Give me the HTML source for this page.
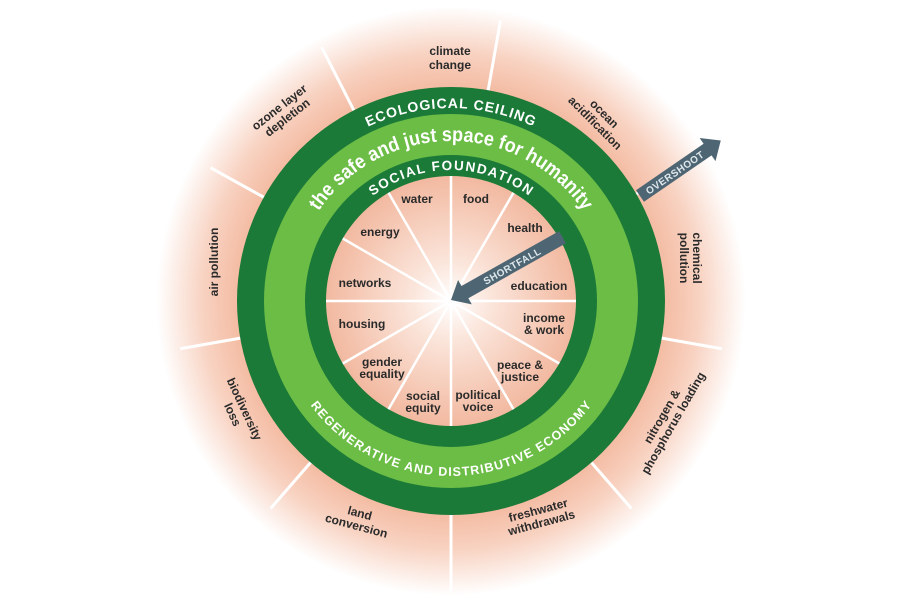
<!DOCTYPE html>
<html><head><meta charset="utf-8"><style>
html,body{margin:0;padding:0;background:#fff;}
svg{display:block;}
.lab{font-family:"Liberation Sans",sans-serif;font-weight:bold;font-size:12px;fill:#2a2a2a;text-anchor:middle;}
.ring{font-family:"Liberation Sans",sans-serif;font-weight:bold;fill:#fff;}
</style></head><body>
<svg width="900" height="604" viewBox="0 0 900 604" xmlns="http://www.w3.org/2000/svg">
<defs>
<radialGradient id="og" cx="451" cy="301" r="310" gradientUnits="userSpaceOnUse">
<stop offset="0.66" stop-color="#f3b69b"/>
<stop offset="0.8" stop-color="#f8d2c1"/>
<stop offset="0.95" stop-color="#ffffff"/>
</radialGradient>
<radialGradient id="ig" cx="451" cy="301" r="126" gradientUnits="userSpaceOnUse">
<stop offset="0" stop-color="#ffffff"/>
<stop offset="0.3" stop-color="#fbe6dc"/>
<stop offset="1" stop-color="#f2b89f"/>
</radialGradient>
<radialGradient id="lg" cx="451" cy="301" r="300" gradientUnits="userSpaceOnUse">
<stop offset="0.7" stop-color="#fff" stop-opacity="1"/>
<stop offset="0.95" stop-color="#fff" stop-opacity="0"/>
</radialGradient>
<path id="pEco" d="M 258,301 A 193,193 0 0 1 644,301"/>
<path id="pSafe" d="M 291,301 A 160,160 0 0 1 611,301"/>
<path id="pSoc" d="M 320,301 A 131,131 0 0 1 582,301"/>
<path id="pReg" d="M 274,301 A 177,177 0 0 0 628,301"/>
</defs>
<rect width="900" height="604" fill="#fff"/>
<circle cx="451" cy="301" r="310" fill="url(#og)"/>
<g stroke="#fff" stroke-width="3">
<g transform="translate(451,301)">
<line x1="0" y1="-214" x2="0" y2="-285" transform="rotate(10)"/>
<line x1="0" y1="-214" x2="0" y2="-285" transform="rotate(60)"/>
<line x1="0" y1="-214" x2="0" y2="-275" transform="rotate(100)"/>
<line x1="0" y1="-214" x2="0" y2="-275" transform="rotate(139)"/>
<line x1="0" y1="-214" x2="0" y2="-290" transform="rotate(180)"/>
<line x1="0" y1="-214" x2="0" y2="-275" transform="rotate(221)"/>
<line x1="0" y1="-214" x2="0" y2="-275" transform="rotate(260)"/>
<line x1="0" y1="-214" x2="0" y2="-275" transform="rotate(299)"/>
<line x1="0" y1="-214" x2="0" y2="-285" transform="rotate(333)"/>
</g>
</g>
<circle cx="451" cy="301" r="214" fill="#1c7a38"/>
<circle cx="451" cy="301" r="187" fill="#6bbd45"/>
<circle cx="451" cy="301" r="146" fill="#1c7a38"/>
<circle cx="451" cy="301" r="125" fill="url(#ig)"/>
<g stroke="#fff" stroke-width="2.5" transform="translate(451,301)">
<line x1="0" y1="0" x2="0" y2="-125"/>
<line x1="0" y1="0" x2="0" y2="-125" transform="rotate(30)"/>
<line x1="0" y1="0" x2="0" y2="-125" transform="rotate(60)"/>
<line x1="0" y1="0" x2="0" y2="-125" transform="rotate(90)"/>
<line x1="0" y1="0" x2="0" y2="-125" transform="rotate(120)"/>
<line x1="0" y1="0" x2="0" y2="-125" transform="rotate(150)"/>
<line x1="0" y1="0" x2="0" y2="-125" transform="rotate(180)"/>
<line x1="0" y1="0" x2="0" y2="-125" transform="rotate(210)"/>
<line x1="0" y1="0" x2="0" y2="-125" transform="rotate(240)"/>
<line x1="0" y1="0" x2="0" y2="-125" transform="rotate(270)"/>
<line x1="0" y1="0" x2="0" y2="-125" transform="rotate(300)"/>
<line x1="0" y1="0" x2="0" y2="-125" transform="rotate(330)"/>
</g>
<text class="ring" font-size="14" letter-spacing="1"><textPath href="#pEco" startOffset="50%" text-anchor="middle">ECOLOGICAL CEILING</textPath></text>
<text class="ring" font-size="20" fill="#e8f7df"><textPath href="#pSafe" startOffset="50%" text-anchor="middle" textLength="312" lengthAdjust="spacingAndGlyphs">the safe and just space for humanity</textPath></text>
<text class="ring" font-size="13.5" letter-spacing="0.5"><textPath href="#pSoc" startOffset="50%" text-anchor="middle" textLength="168">SOCIAL FOUNDATION</textPath></text>
<text class="ring" font-size="12.5" dy="-2"><textPath href="#pReg" startOffset="50%" text-anchor="middle" textLength="330">REGENERATIVE AND DISTRIBUTIVE ECONOMY</textPath></text>
<g class="lab">
<text x="417" y="203">water</text>
<text x="476" y="203">food</text>
<text x="525" y="232">health</text>
<text x="380" y="236">energy</text>
<text x="365" y="287">networks</text>
<text x="539" y="290">education</text>
<text x="362" y="328">housing</text>
<text x="544" y="322">income</text>
<text x="544" y="334">&amp; work</text>
<text x="382" y="366">gender</text>
<text x="382" y="378">equality</text>
<text x="520" y="369">peace &amp;</text>
<text x="520" y="381">justice</text>
<text x="423" y="400">social</text>
<text x="423" y="412">equity</text>
<text x="478" y="399">political</text>
<text x="478" y="411">voice</text>
</g>
<g class="lab">
<text x="450" y="55">climate</text>
<text x="450" y="69">change</text>
<g transform="translate(283,112) rotate(-38)"><text y="-2">ozone layer</text><text y="11">depletion</text></g>
<g transform="translate(600,118) rotate(45)"><text y="-2">ocean</text><text y="11">acidification</text></g>
<g transform="translate(690,258) rotate(90)"><text y="-3">chemical</text><text y="10">pollution</text></g>
<g transform="translate(668,420) rotate(-60)"><text y="-3">nitrogen &amp;</text><text y="10">phosphorus loading</text></g>
<g transform="translate(540,517) rotate(-15)"><text y="-3">freshwater</text><text y="10">withdrawals</text></g>
<g transform="translate(358,520) rotate(15)"><text y="-3">land</text><text y="10">conversion</text></g>
<g transform="translate(238,412) rotate(65)"><text y="-3">biodiversity</text><text y="10">loss</text></g>
<g transform="translate(214,262) rotate(-90)"><text y="4">air pollution</text></g>
</g>
<g transform="translate(451,300) rotate(-29.4)">
<polygon points="0,0 16,-14 16,-7 128,-7 128,7 16,7 16,14" fill="#4e6673"/>
<text x="70" y="4" font-family="Liberation Sans,sans-serif" font-weight="bold" font-size="10" fill="#dfe8ec" text-anchor="middle" letter-spacing="0.5">SHORTFALL</text>
</g>
<g transform="translate(640,196) rotate(-34.5)">
<polygon points="0,-7 82,-7 82,-14 98,0 82,14 82,7 0,7" fill="#4e6673"/>
<text x="42" y="4" font-family="Liberation Sans,sans-serif" font-weight="bold" font-size="10" fill="#dfe8ec" text-anchor="middle" letter-spacing="0.5">OVERSHOOT</text>
</g>
</svg>
</body></html>
